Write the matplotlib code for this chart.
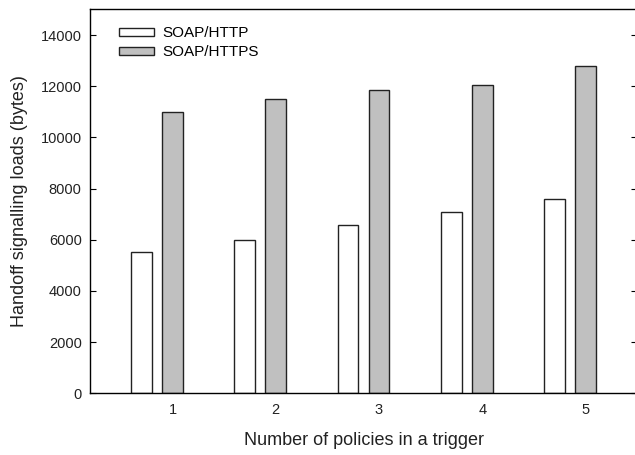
import numpy as np
import matplotlib
matplotlib.use('Agg')
import matplotlib.pyplot as plt

policies = [1, 2, 3, 4, 5]
soap_http = [5530, 5980, 6590, 7100, 7600]
soap_https = [10980, 11510, 11860, 12060, 12800]
yticks = [0, 2000, 4000, 6000, 8000, 10000, 12000, 14000]


def main():
    plt.rcParams['font.family'] = ['Liberation Sans', 'DejaVu Sans']

    fig = plt.figure(figsize=(6.35, 4.55), dpi=100)
    ax = fig.add_axes([90 / 635, 61.7 / 455, 547 / 635, 383.8 / 455])

    x = np.array(policies, dtype=float)
    ax.bar(x - 0.3, soap_http, width=0.2, color='white', edgecolor='#222222',
           linewidth=1.0, label='SOAP/HTTP')
    ax.bar(x, soap_https, width=0.2, color='#c0c0c0', edgecolor='#222222',
           linewidth=1.0, label='SOAP/HTTPS')

    ax.set_xlim(0.2, 5.5)
    ax.set_ylim(0, 15000)
    ax.set_xticks(policies)
    ax.set_yticks(yticks)
    ax.tick_params(axis='x', length=0, pad=7, labelsize=10.5, labelcolor='#222222')
    ax.tick_params(axis='y', direction='in', length=4, pad=6, labelsize=10.5,
                   labelcolor='#222222', right=True)
    for s in ax.spines.values():
        s.set_linewidth(1.0)

    ax.set_xlabel('Number of policies in a trigger', fontsize=13, labelpad=11,
                  color='#222222')
    ax.set_ylabel('Handoff signalling loads (bytes)', fontsize=13, labelpad=9,
                  color='#222222')

    ax.legend(loc='upper left', bbox_to_anchor=(0.041, 0.972), frameon=False,
              fontsize=11, handlelength=2.3, handleheight=0.4,
              labelspacing=0.32, handletextpad=0.6, borderaxespad=0)

    fig.savefig('out.png', dpi=100)


if __name__ == '__main__':
    main()
